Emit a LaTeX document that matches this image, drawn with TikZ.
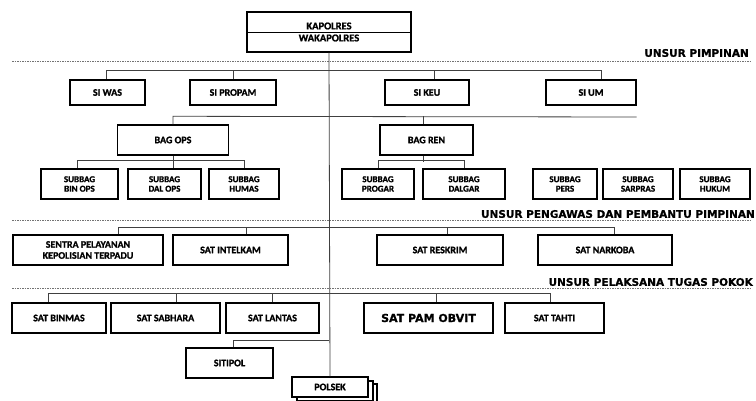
\documentclass[tikz,border=0pt]{standalone}
\usepackage{fontspec}
\usetikzlibrary{shadows}
\setmainfont{Carlito}[BoldFont={Carlito Bold}, BoldFeatures={FakeBold=1.2}]
\newfontfamily\vfont{DejaVu Sans}[BoldFont={DejaVu Sans Bold}, BoldFeatures={FakeBold=0.8}]
\begin{document}
\begin{tikzpicture}[x=1pt,y=-1pt,
  box/.style={draw, line width=1.4pt, inner sep=0pt, align=center, fill=white,
    drop shadow={shadow xshift=0.9pt, shadow yshift=-0.9pt, fill=black!45, opacity=1},
    font=\bfseries\fontsize{10}{11}\selectfont},
  sub/.style={box, font=\bfseries\fontsize{9}{9.5}\selectfont},
  conn/.style={draw=black!75, line width=0.8pt},
  sep/.style={draw=black!55, line width=0.8pt, dash pattern=on 1.5pt off 1pt},
  unsur/.style={font=\vfont\bfseries\fontsize{10.5}{12}\selectfont, anchor=east, inner sep=0pt}]
\useasboundingbox[fill=white] (0,0) rectangle (756,401);

% separators and labels
\draw[sep] (12,61) -- (751,61);
\draw[sep] (12,220) -- (751,220);
\draw[sep] (12,288) -- (751,288);
\node[unsur] (u1) at (749,53) {UNSUR PIMPINAN};
\node[unsur] (u2) at (755,214) {UNSUR PENGAWAS DAN PEMBANTU PIMPINAN};
\node[unsur] (u3) at (753,282) {UNSUR PELAKSANA TUGAS POKOK};

% top
\node[box, minimum width=164pt, minimum height=40pt, font=\bfseries\fontsize{10.5}{12}\selectfont] (kap) at (329,32) {KAPOLRES\\WAKAPOLRES};
\draw[line width=0.7pt] (kap.west) -- (kap.east);

% POLSEK stack
\node[box, minimum width=76pt, minimum height=20pt] (p3) at (339,394) {};
\node[box, minimum width=76pt, minimum height=20pt] (p2) at (335,391) {};
\node[box, minimum width=76pt, minimum height=20pt] (polsek) at (330,387) {POLSEK};

\draw[conn] (kap.south) -- (polsek.north);

% row 1
\node[box, minimum width=75pt, minimum height=25pt] (siwas) at (107.5,92.5) {SI WAS};
\node[box, minimum width=86pt, minimum height=25pt] (sipropam) at (233,92.5) {SI PROPAM};
\node[box, minimum width=84pt, minimum height=25pt] (sikeu) at (427,92.5) {SI KEU};
\node[box, minimum width=90pt, minimum height=25pt] (sium) at (591,92.5) {SI UM};
\draw[conn] ([xshift=-1.5pt]siwas.north) -- ++(0,-9) -| ([xshift=10pt]sium.north);
\draw[conn] (sipropam.north) -- ++(0,-9);
\draw[conn] ([xshift=7pt]sikeu.north) -- ++(0,-9);

% BAG
\node[box, minimum width=111pt, minimum height=30pt] (bagops) at (173,140) {BAG OPS};
\node[box, minimum width=93pt, minimum height=30pt] (bagren) at (426.5,140) {BAG REN};
\coordinate (bagend) at (sium.east |- 0,117);
\draw[conn] (bagops.north) -- ++(0,-8) -- (bagend);
\draw[conn] ([xshift=-3.5pt]bagren.north) -- ++(0,-8);

% SUBBAG
\node[sub, minimum width=77pt, minimum height=30pt] (binops) at (79.5,184) {SUBBAG\\BIN OPS};
\node[sub, minimum width=73pt, minimum height=30pt] (dalops) at (164.5,184) {SUBBAG\\DAL OPS};
\node[sub, minimum width=70pt, minimum height=30pt] (humas) at (244,184) {SUBBAG\\HUMAS};
\node[sub, minimum width=72pt, minimum height=30pt] (progar) at (378,184) {SUBBAG\\PROGAR};
\node[sub, minimum width=82pt, minimum height=30pt] (dalgar) at (464,184) {SUBBAG\\DALGAR};
\node[sub, minimum width=64pt, minimum height=30pt] (pers) at (565,184) {SUBBAG\\PERS};
\node[sub, minimum width=70pt, minimum height=30pt] (sarpras) at (638,184) {SUBBAG\\SARPRAS};
\node[sub, minimum width=70pt, minimum height=30pt] (hukum) at (715,184) {SUBBAG\\HUKUM};
\draw[conn] (bagops.south) -- (bagops.south |- dalops.north);
\draw[conn] ([xshift=-2.5pt]binops.north) -- ++(0,-8) -| (humas.north);
\draw[conn] ([xshift=-3.5pt]bagren.south) -- ++(0,6);
\draw[conn] (progar.north) -- ++(0,-8) -| (dalgar.north);

% row 3
\node[box, minimum width=150pt, minimum height=30pt] (sentra) at (88,250) {SENTRA PELAYANAN\\KEPOLISIAN TERPADU};
\node[box, minimum width=115pt, minimum height=30pt] (intelkam) at (230.5,250) {SAT INTELKAM};
\node[box, minimum width=126pt, minimum height=30pt] (reskrim) at (440,250) {SAT RESKRIM};
\node[box, minimum width=134pt, minimum height=30pt] (narkoba) at (605,250) {SAT NARKOBA};
\draw[conn] ([xshift=30pt]sentra.north) -- ++(0,-7) -| ([xshift=9pt]narkoba.north);
\draw[conn] ([xshift=15.5pt]intelkam.north) -- ++(0,-7);
\draw[conn] ([xshift=7pt]reskrim.north) -- ++(0,-7);

% row 4
\node[box, minimum width=94pt, minimum height=30pt] (binmas) at (59,318) {SAT BINMAS};
\node[box, minimum width=109pt, minimum height=30pt] (sabhara) at (165.5,318) {SAT SABHARA};
\node[box, minimum width=93pt, minimum height=30pt] (lantas) at (272.5,318) {SAT LANTAS};
\node[box, line width=2.6pt, minimum width=129pt, minimum height=30pt, font=\vfont\bfseries\fontsize{11}{12}\selectfont] (pamobvit) at (428.5,318) {SAT PAM OBVIT};
\node[box, minimum width=99pt, minimum height=30pt] (tahti) at (554.5,318) {SAT TAHTI};
\draw[conn] ([xshift=-11pt]binmas.north) -- ++(0,-9) -| ([xshift=-4.5pt]tahti.north);
\draw[conn] ([xshift=10.5pt]sabhara.north) -- ++(0,-9);
\draw[conn] (lantas.north) -- ++(0,-9);
\draw[conn] ([xshift=7.5pt]pamobvit.north) -- ++(0,-9);

% SITIPOL
\node[box, minimum width=87pt, minimum height=30pt] (sitipol) at (229.5,363) {SITIPOL};
\draw[conn] ([xshift=3.5pt]sitipol.north) -- ++(0,-7) coordinate (st) -- (st -| kap.south);
\end{tikzpicture}
\end{document}
